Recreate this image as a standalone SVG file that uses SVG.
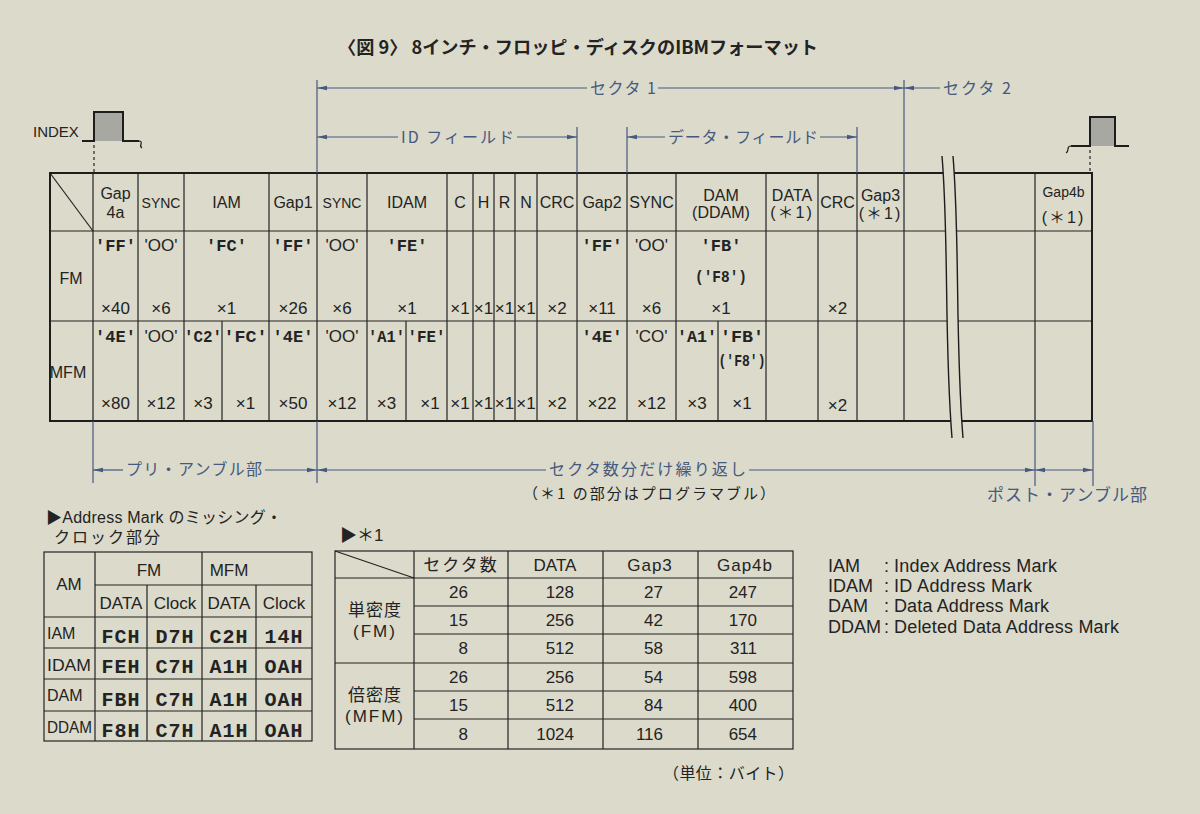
<svg xmlns="http://www.w3.org/2000/svg" width="1200" height="814" viewBox="0 0 1200 814">
<defs>
<style>
text{font-family:"Liberation Sans","Noto Sans CJK JP",sans-serif;fill:#232323}
.t{font-size:16px;text-anchor:middle}
.s{font-size:14px;text-anchor:middle}
.x{font-size:17px;text-anchor:middle}
.h{font-family:"Liberation Mono","Noto Sans CJK JP",monospace;font-weight:bold;font-size:17px;text-anchor:middle}
.o{font-size:17px;text-anchor:middle}
.jp{font-family:"Noto Sans CJK JP",sans-serif;font-size:16px}
.b{fill:#46597e}
.ln{stroke:#232323;stroke-width:1.2;fill:none}
.bd{stroke:#1d1d1d;stroke-width:2;fill:none}
.dm{stroke:#46597e;stroke-width:1.2;fill:none}
.st{font-family:"Liberation Mono",monospace;font-weight:bold;font-size:20px;text-anchor:middle;letter-spacing:1px}
.n{font-size:17px;text-anchor:end}
.lg{font-size:18px}
.rl{font-size:16px}
</style>
<marker id="a" markerUnits="userSpaceOnUse" markerWidth="10" markerHeight="6" refX="10" refY="3" orient="auto-start-reverse">
<path d="M0,0.8 L10,3 L0,5.2 z" fill="#46597e"/>
</marker>
</defs>
<rect width="1200" height="814" fill="#dbdacb"/>

<g id="title">
<text x="338" y="54" style="font-family:'Noto Sans CJK JP',sans-serif;font-size:18px;font-weight:bold" textLength="480" lengthAdjust="spacingAndGlyphs">〈図 9〉 8インチ・フロッピ・ディスクのIBMフォーマット</text>
</g>

<g id="index-pulse">
<text x="33" y="137" style="font-size:15px">INDEX</text>
<rect x="94" y="112" width="29" height="29" fill="#a7a8a1"/>
<path d="M82,141 H94 V112 H123 V141 H139" stroke="#1d1d1d" stroke-width="2" fill="none"/>
<path d="M139,141 q3,0 2,3 q-1,3 1,4" stroke="#1d1d1d" stroke-width="1.2" fill="none"/>
<line x1="94" y1="145" x2="94" y2="173" stroke="#232323" stroke-width="1.2" stroke-dasharray="3,3"/>
</g>
<g id="index-pulse-2">
<rect x="1090" y="117" width="25" height="29" fill="#a7a8a1"/>
<path d="M1071,146 H1090 V117 H1115 V146 H1129" stroke="#1d1d1d" stroke-width="2" fill="none"/>
<path d="M1071,146 q-3,0 -3,3 q0,3 -2,4" stroke="#1d1d1d" stroke-width="1.2" fill="none"/>
<line x1="1090" y1="150" x2="1090" y2="173" stroke="#232323" stroke-width="1.2" stroke-dasharray="3,3"/>
</g>

<g id="main-table">
<g class="ln">
<line x1="50" y1="173" x2="93" y2="231"/>
<line x1="50" y1="231" x2="1092" y2="231"/>
<line x1="50" y1="321" x2="1092" y2="321"/>
<line x1="93" y1="173" x2="93" y2="421"/>
<line x1="138" y1="173" x2="138" y2="421"/>
<line x1="184" y1="173" x2="184" y2="421"/>
<line x1="269" y1="173" x2="269" y2="421"/>
<line x1="317" y1="173" x2="317" y2="421"/>
<line x1="367" y1="173" x2="367" y2="421"/>
<line x1="447" y1="173" x2="447" y2="421"/>
<line x1="473" y1="173" x2="473" y2="421"/>
<line x1="494" y1="173" x2="494" y2="421"/>
<line x1="515" y1="173" x2="515" y2="421"/>
<line x1="537" y1="173" x2="537" y2="421"/>
<line x1="577" y1="173" x2="577" y2="421"/>
<line x1="627" y1="173" x2="627" y2="421"/>
<line x1="676" y1="173" x2="676" y2="421"/>
<line x1="766" y1="173" x2="766" y2="421"/>
<line x1="818" y1="173" x2="818" y2="421"/>
<line x1="857" y1="173" x2="857" y2="421"/>
<line x1="904" y1="173" x2="904" y2="421"/>
<line x1="1035" y1="173" x2="1035" y2="421"/>
<line x1="222" y1="321" x2="222" y2="421"/>
<line x1="406" y1="321" x2="406" y2="421"/>
<line x1="718" y1="321" x2="718" y2="421"/>
</g>
<rect class="bd" x="50" y="173" width="1042" height="248"/>
<path d="M942,156 C949,240 944,340 952,438 L963,438 C955,340 960,240 953,156 Z" fill="#dbdacb"/>
<path d="M942,156 C949,240 944,340 952,438 M953,156 C960,240 955,340 963,438" stroke="#1d1d1d" stroke-width="1.4" fill="none"/>

<text class="t" x="115.5" y="199">Gap</text>
<text class="t" x="115.5" y="218">4a</text>
<text class="s" x="161" y="208">SYNC</text>
<text class="t" x="226.5" y="208">IAM</text>
<text class="t" x="293" y="208">Gap1</text>
<text class="s" x="342" y="208">SYNC</text>
<text class="t" x="407" y="208">IDAM</text>
<text class="t" x="460" y="208">C</text>
<text class="t" x="483.5" y="208">H</text>
<text class="t" x="504.5" y="208">R</text>
<text class="t" x="526" y="208">N</text>
<text class="t" x="557" y="208">CRC</text>
<text class="t" x="602" y="208">Gap2</text>
<text class="t" x="651.5" y="208">SYNC</text>
<text class="t" x="721" y="201">DAM</text>
<text class="t" x="721" y="218">(DDAM)</text>
<text class="t" x="792" y="201">DATA</text>
<text class="t" x="792" y="218" style="letter-spacing:2px">(＊1)</text>
<text class="t" x="837.5" y="208">CRC</text>
<text class="t" x="880.5" y="201">Gap3</text>
<text class="t" x="880.5" y="219" style="letter-spacing:2px">(＊1)</text>
<text class="s" x="1063.5" y="197">Gap4b</text>
<text class="t" x="1063.5" y="223" style="letter-spacing:2px">(＊1)</text>

<text class="t" x="71" y="284">FM</text>
<text class="h" x="115.5" y="251">'FF'</text>
<text class="o" x="161" y="251">'OO'</text>
<text class="h" x="226.5" y="251">'FC'</text>
<text class="h" x="293" y="251">'FF'</text>
<text class="o" x="342" y="251">'OO'</text>
<text class="h" x="407" y="251">'FE'</text>
<text class="h" x="602" y="251">'FF'</text>
<text class="o" x="651.5" y="251">'OO'</text>
<text class="h" x="721" y="251">'FB'</text>
<text class="h" x="721" y="282" textLength="52" lengthAdjust="spacingAndGlyphs">('F8')</text>

<text class="x" x="115.5" y="314">×40</text>
<text class="x" x="161" y="314">×6</text>
<text class="x" x="226.5" y="314">×1</text>
<text class="x" x="293" y="314">×26</text>
<text class="x" x="342" y="314">×6</text>
<text class="x" x="407" y="314">×1</text>
<text class="x" x="460" y="314">×1</text>
<text class="x" x="483.5" y="314">×1</text>
<text class="x" x="504.5" y="314">×1</text>
<text class="x" x="526" y="314">×1</text>
<text class="x" x="557" y="314">×2</text>
<text class="x" x="602" y="314">×11</text>
<text class="x" x="651.5" y="314">×6</text>
<text class="x" x="721" y="314">×1</text>
<text class="x" x="837.5" y="314">×2</text>

<text class="t" x="68" y="378">MFM</text>
<text class="h" x="115.5" y="342">'4E'</text>
<text class="o" x="161" y="342">'OO'</text>
<text class="h" x="203" y="342" textLength="38" lengthAdjust="spacingAndGlyphs">'C2'</text>
<text class="h" x="245.5" y="342" textLength="44" lengthAdjust="spacingAndGlyphs">'FC'</text>
<text class="h" x="293" y="342">'4E'</text>
<text class="o" x="342" y="342">'OO'</text>
<text class="h" x="386.5" y="342" textLength="37" lengthAdjust="spacingAndGlyphs">'A1'</text>
<text class="h" x="426.5" y="342" textLength="38" lengthAdjust="spacingAndGlyphs">'FE'</text>
<text class="h" x="602" y="342">'4E'</text>
<text class="o" x="651.5" y="342">'CO'</text>
<text class="h" x="697" y="342" textLength="40" lengthAdjust="spacingAndGlyphs">'A1'</text>
<text class="h" x="742" y="342" textLength="44" lengthAdjust="spacingAndGlyphs">'FB'</text>
<text class="h" x="742" y="366" textLength="47" lengthAdjust="spacingAndGlyphs">('F8')</text>

<text class="x" x="115.5" y="409">×80</text>
<text class="x" x="161" y="409">×12</text>
<text class="x" x="203" y="409">×3</text>
<text class="x" x="245.5" y="409">×1</text>
<text class="x" x="293" y="409">×50</text>
<text class="x" x="342" y="409">×12</text>
<text class="x" x="386.5" y="409">×3</text>
<text class="x" x="430" y="409">×1</text>
<text class="x" x="460" y="409">×1</text>
<text class="x" x="483.5" y="409">×1</text>
<text class="x" x="504.5" y="409">×1</text>
<text class="x" x="526" y="409">×1</text>
<text class="x" x="557" y="409">×2</text>
<text class="x" x="602" y="409">×22</text>
<text class="x" x="651.5" y="409">×12</text>
<text class="x" x="697" y="409">×3</text>
<text class="x" x="742" y="409">×1</text>
<text class="x" x="837.5" y="411">×2</text>
</g>

<g id="dimensions">
<g class="dm">
<line x1="317" y1="80" x2="317" y2="173"/>
<line x1="904" y1="80" x2="904" y2="173"/>
<line x1="577" y1="127" x2="577" y2="173"/>
<line x1="627" y1="127" x2="627" y2="173"/>
<line x1="857" y1="127" x2="857" y2="173"/>
<line x1="317" y1="88" x2="587" y2="88" marker-start="url(#a)"/>
<line x1="658" y1="88" x2="904" y2="88" marker-end="url(#a)"/>
<line x1="904" y1="88" x2="940" y2="88" marker-start="url(#a)"/>
<line x1="317" y1="137" x2="398" y2="137" marker-start="url(#a)"/>
<line x1="517" y1="137" x2="577" y2="137" marker-end="url(#a)"/>
<line x1="627" y1="137" x2="665" y2="137" marker-start="url(#a)"/>
<line x1="820" y1="137" x2="857" y2="137" marker-end="url(#a)"/>
<line x1="93" y1="421" x2="93" y2="483"/>
<line x1="317" y1="421" x2="317" y2="483"/>
<line x1="1035" y1="421" x2="1035" y2="486"/>
<line x1="1093" y1="421" x2="1093" y2="486"/>
<line x1="93" y1="470" x2="123" y2="470" marker-start="url(#a)"/>
<line x1="265" y1="470" x2="317" y2="470" marker-end="url(#a)"/>
<line x1="317" y1="470" x2="546" y2="470" marker-start="url(#a)"/>
<line x1="749" y1="470" x2="1035" y2="470" marker-end="url(#a)"/>
<line x1="1035" y1="470" x2="1093" y2="470" marker-start="url(#a)" marker-end="url(#a)"/>
</g>
<text class="jp b" x="590" y="94" textLength="66" lengthAdjust="spacing">セクタ 1</text>
<text class="jp b" x="943" y="94" textLength="68" lengthAdjust="spacing">セクタ 2</text>
<text class="jp b" x="401" y="143" textLength="113" lengthAdjust="spacing">ID フィールド</text>
<text class="jp b" x="668" y="143" textLength="150" lengthAdjust="spacing">データ・フィールド</text>
<text class="jp b" x="126" y="475" textLength="136" lengthAdjust="spacing">プリ・アンブル部</text>
<text class="jp b" x="549" y="475" textLength="197" lengthAdjust="spacing">セクタ数分だけ繰り返し</text>
<text class="jp" x="523" y="499" textLength="252" lengthAdjust="spacing" style="font-size:15px">（＊1 の部分はプログラマブル）</text>
<text class="jp b" x="987" y="501" textLength="160" lengthAdjust="spacing" style="font-size:17px">ポスト・アンブル部</text>
</g>

<g id="missing-clock-table">
<text x="46" y="523" style="font-size:16px" textLength="236" lengthAdjust="spacing">▶Address Mark のミッシング・</text>
<text x="54" y="543" class="jp" style="font-size:16px" textLength="106" lengthAdjust="spacing">クロック部分</text>
<g class="ln">
<line x1="95" y1="585" x2="312" y2="585"/>
<line x1="44" y1="617" x2="312" y2="617"/>
<line x1="44" y1="648" x2="312" y2="648"/>
<line x1="44" y1="679" x2="312" y2="679"/>
<line x1="44" y1="711" x2="312" y2="711"/>
<line x1="95" y1="552" x2="95" y2="741"/>
<line x1="202" y1="552" x2="202" y2="741"/>
<line x1="147" y1="585" x2="147" y2="741"/>
<line x1="256" y1="585" x2="256" y2="741"/>
<rect x="44" y="552" width="268" height="189"/>
</g>
<text class="x" x="69" y="590">AM</text>
<text class="x" x="149" y="576">FM</text>
<text class="x" x="229" y="576">MFM</text>
<text class="x" x="121" y="609">DATA</text>
<text class="x" x="175" y="609">Clock</text>
<text class="x" x="229" y="609">DATA</text>
<text class="x" x="284" y="609">Clock</text>
<text class="rl" x="47" y="639">IAM</text>
<text class="rl" x="47" y="671" textLength="44" lengthAdjust="spacingAndGlyphs">IDAM</text>
<text class="rl" x="47" y="701">DAM</text>
<text class="rl" x="47" y="733" textLength="45" lengthAdjust="spacingAndGlyphs">DDAM</text>
<text class="st" x="121" y="643">FCH</text>
<text class="st" x="175" y="643">D7H</text>
<text class="st" x="229" y="643">C2H</text>
<text class="st" x="284" y="643">14H</text>
<text class="st" x="121" y="673">FEH</text>
<text class="st" x="175" y="673">C7H</text>
<text class="st" x="229" y="673">A1H</text>
<text class="st" x="284" y="673">OAH</text>
<text class="st" x="121" y="706">FBH</text>
<text class="st" x="175" y="706">C7H</text>
<text class="st" x="229" y="706">A1H</text>
<text class="st" x="284" y="706">OAH</text>
<text class="st" x="121" y="737">F8H</text>
<text class="st" x="175" y="737">C7H</text>
<text class="st" x="229" y="737">A1H</text>
<text class="st" x="284" y="737">OAH</text>
</g>

<g id="programmable-table">
<text x="340" y="541" style="font-size:17px">▶＊1</text>
<g class="ln">
<line x1="335" y1="551" x2="414" y2="578"/>
<line x1="335" y1="578" x2="793" y2="578"/>
<line x1="414" y1="606" x2="793" y2="606"/>
<line x1="414" y1="634" x2="793" y2="634"/>
<line x1="335" y1="663" x2="793" y2="663"/>
<line x1="414" y1="691" x2="793" y2="691"/>
<line x1="414" y1="719" x2="793" y2="719"/>
<line x1="414" y1="551" x2="414" y2="749"/>
<line x1="508" y1="551" x2="508" y2="749"/>
<line x1="603" y1="551" x2="603" y2="749"/>
<line x1="698" y1="551" x2="698" y2="749"/>
<rect x="335" y="551" width="458" height="198"/>
</g>
<text class="jp" x="461" y="571" style="font-size:17px;text-anchor:middle;letter-spacing:2px">セクタ数</text>
<text class="x" x="555" y="571">DATA</text>
<text class="x" x="650" y="571" style="letter-spacing:1px">Gap3</text>
<text class="x" x="745" y="571" style="letter-spacing:1px">Gap4b</text>
<text class="jp" x="375" y="616" style="font-size:17px;text-anchor:middle;letter-spacing:1px">単密度</text>
<text class="x" x="375" y="637" style="letter-spacing:2px">(FM)</text>
<text class="jp" x="375" y="701" style="font-size:17px;text-anchor:middle;letter-spacing:1px">倍密度</text>
<text class="x" x="375" y="722" style="letter-spacing:2px">(MFM)</text>
<text class="n" x="468" y="598">26</text>
<text class="n" x="468" y="626">15</text>
<text class="n" x="468" y="654">8</text>
<text class="n" x="468" y="683">26</text>
<text class="n" x="468" y="711">15</text>
<text class="n" x="468" y="740">8</text>
<text class="n" x="574" y="598">128</text>
<text class="n" x="574" y="626">256</text>
<text class="n" x="574" y="654">512</text>
<text class="n" x="574" y="683">256</text>
<text class="n" x="574" y="711">512</text>
<text class="n" x="574" y="740">1024</text>
<text class="n" x="663" y="598">27</text>
<text class="n" x="663" y="626">42</text>
<text class="n" x="663" y="654">58</text>
<text class="n" x="663" y="683">54</text>
<text class="n" x="663" y="711">84</text>
<text class="n" x="663" y="740">116</text>
<text class="n" x="757" y="598">247</text>
<text class="n" x="757" y="626">170</text>
<text class="n" x="757" y="654">311</text>
<text class="n" x="757" y="683">598</text>
<text class="n" x="757" y="711">400</text>
<text class="n" x="757" y="740">654</text>
<text class="jp" x="663" y="779" textLength="131" lengthAdjust="spacing">（単位：バイト）</text>
</g>

<g id="legend">
<text class="lg" x="828" y="572">IAM</text>
<text class="lg" x="828" y="592">IDAM</text>
<text class="lg" x="828" y="612">DAM</text>
<text class="lg" x="828" y="633">DDAM</text>
<text class="lg" x="884" y="572">:</text>
<text class="lg" x="884" y="592">:</text>
<text class="lg" x="884" y="612">:</text>
<text class="lg" x="884" y="633">:</text>
<text class="lg" x="894" y="572" textLength="163" lengthAdjust="spacing">Index Address Mark</text>
<text class="lg" x="894" y="592" textLength="138" lengthAdjust="spacing">ID Address Mark</text>
<text class="lg" x="894" y="612" textLength="155" lengthAdjust="spacing">Data Address Mark</text>
<text class="lg" x="894" y="633" textLength="225" lengthAdjust="spacing">Deleted Data Address Mark</text>
</g>
</svg>
